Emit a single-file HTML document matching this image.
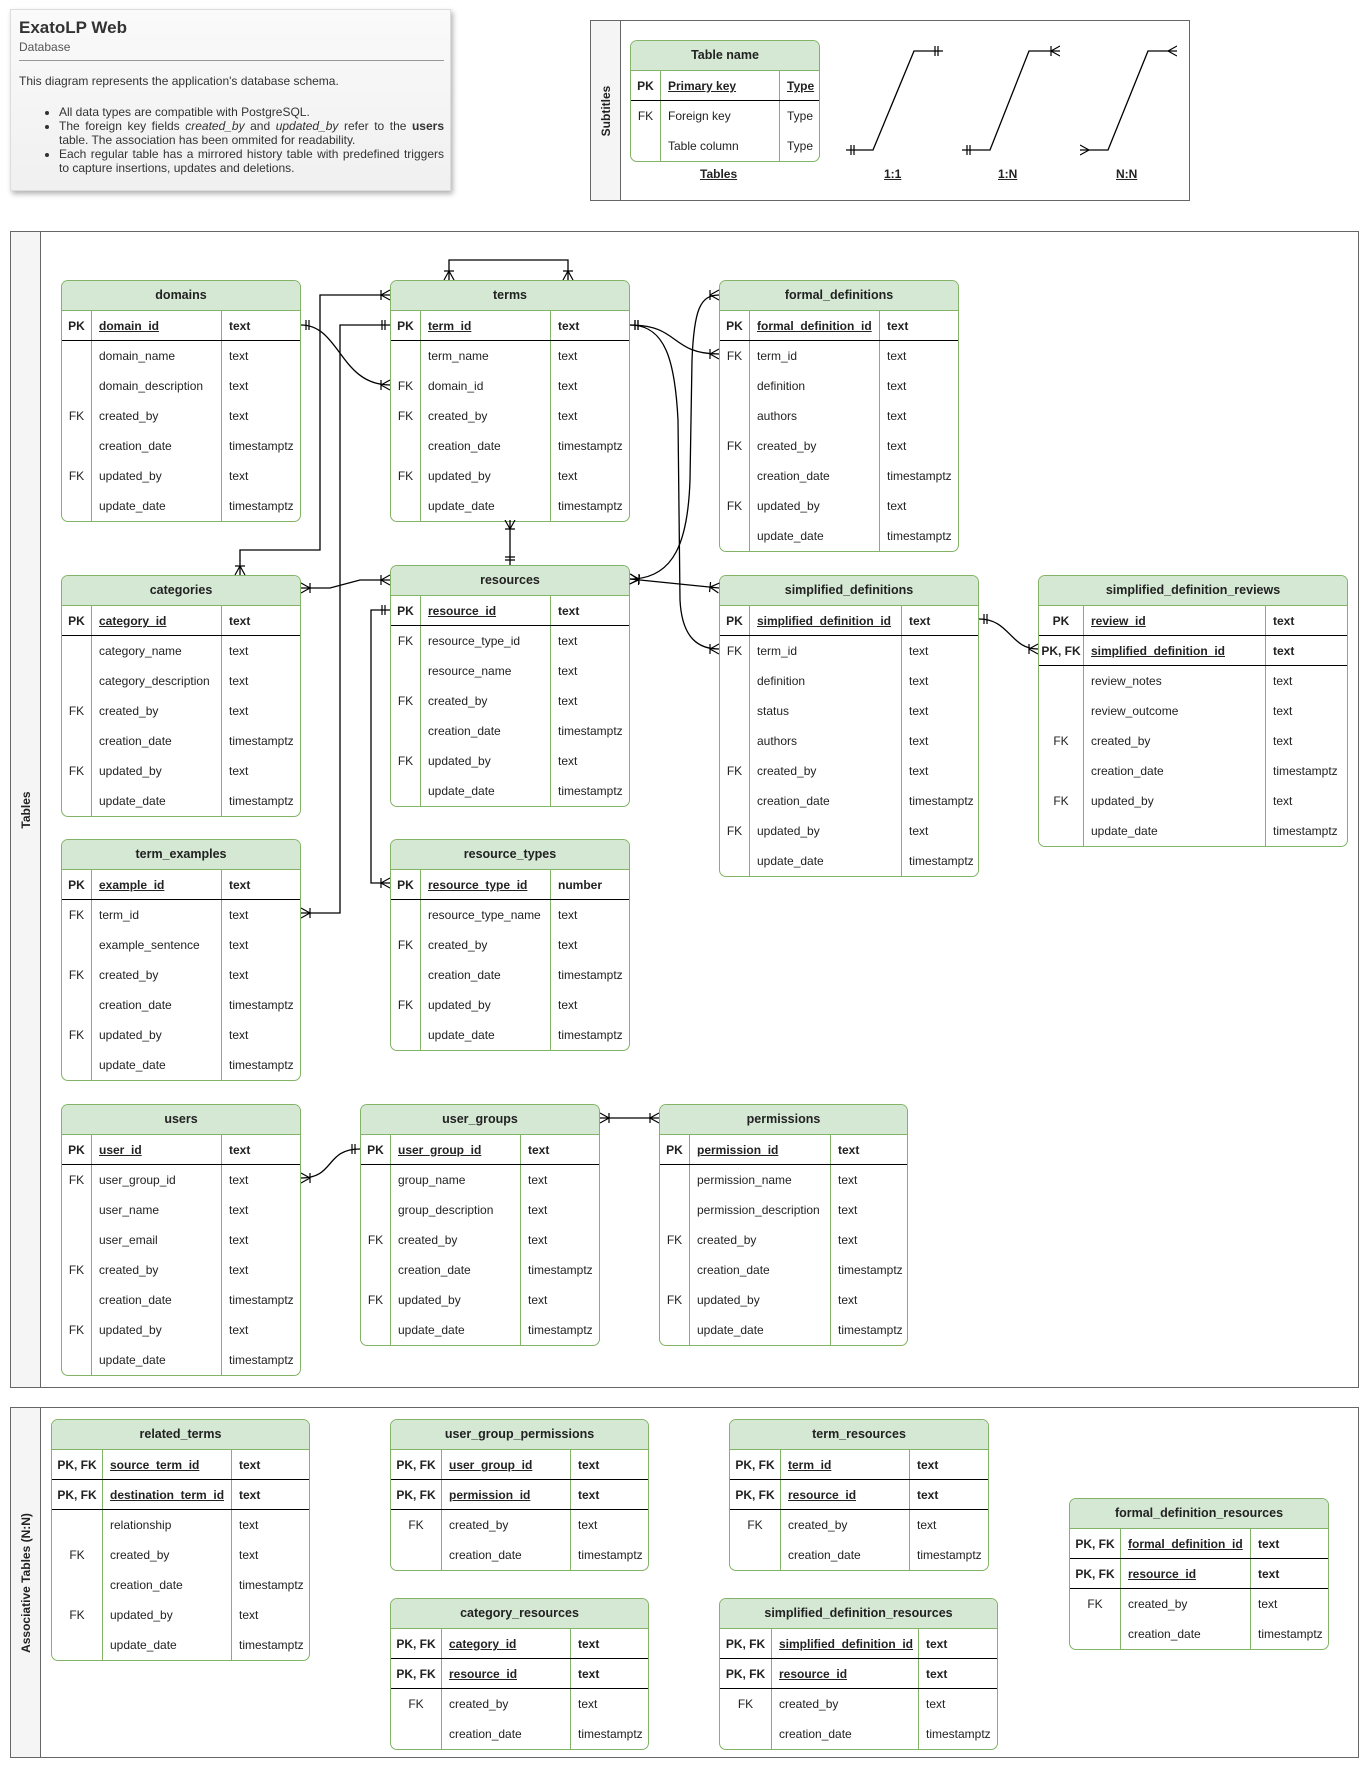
<!DOCTYPE html>
<html><head><meta charset="utf-8">
<style>
*{box-sizing:border-box;margin:0;padding:0}
body{width:1367px;height:1767px;background:#fff;position:relative;font-family:"Liberation Sans",Arial,sans-serif;color:#222;overflow:hidden}
.t{position:absolute;border:1px solid #82b366;border-radius:7px;background:#fff;overflow:hidden;font-size:12px}
.h{height:30px;background:#d5e8d4;border-bottom:1px solid #82b366;text-align:center;line-height:29px;font-weight:bold;font-size:12.5px}
.r{display:flex;height:30px;line-height:30px}
.r div{white-space:nowrap;overflow:hidden}
.k{text-align:center;border-right:1px solid #82b366;flex:none}
.n{padding-left:7px;border-right:1px solid #82b366;flex:none}
.y{padding-left:7px;flex:1}
.pk{font-weight:bold;border-bottom:1.5px solid #000}
.pk .n{text-decoration:underline}
.box{position:absolute;border:1px solid #666;background:#fff}
.strip{position:absolute;left:0;top:0;bottom:0;border-right:1px solid #666;background:#f5f5f5}
.strip span{position:absolute;left:50%;top:50%;transform:translate(-50%,-50%) rotate(-90deg);font-weight:bold;font-size:12px;white-space:nowrap}
svg{position:absolute;left:0;top:0}
</style></head><body>

<div style="position:absolute;left:10px;top:9px;width:441px;height:182px;background:linear-gradient(#fafafa,#f0f0f0);box-shadow:2px 3px 5px rgba(0,0,0,.3);border:1px solid #ddd;font-size:12px;color:#333">
 <div style="position:absolute;left:8px;top:8px;font-size:17px;font-weight:bold">ExatoLP Web</div>
 <div style="position:absolute;left:8px;top:30px;font-size:12px;color:#555">Database</div>
 <div style="position:absolute;left:8px;top:50px;width:425px;border-top:1px solid #999"></div>
 <div style="position:absolute;left:8px;top:64px">This diagram represents the application's database schema.</div>
 <ul style="position:absolute;left:48px;top:95px;width:385px;line-height:14px;text-align:justify">
  <li>All data types are compatible with PostgreSQL.</li>
  <li>The foreign key fields <i>created_by</i> and <i>updated_by</i> refer to the <b>users</b> table. The association has been ommited for readability.</li>
  <li>Each regular table has a mirrored history table with predefined triggers to capture insertions, updates and deletions.</li>
 </ul>
</div>

<div class="box" style="left:590px;top:20px;width:600px;height:181px"><div class="strip" style="width:30px"><span>Subtitles</span></div></div>
<div class="t" style="left:630px;top:40px;width:190px">
 <div class="h">Table name</div>
 <div class="r pk"><div class="k" style="width:30px">PK</div><div class="n" style="width:119px">Primary key</div><div class="y" style="text-decoration:underline">Type</div></div>
 <div class="r"><div class="k" style="width:30px">FK</div><div class="n" style="width:119px">Foreign key</div><div class="y">Type</div></div>
 <div class="r"><div class="k" style="width:30px"></div><div class="n" style="width:119px">Table column</div><div class="y">Type</div></div>
</div>
<div style="position:absolute;top:167px;left:700px;font-size:12px;font-weight:bold;text-decoration:underline">Tables</div>
<div style="position:absolute;top:167px;left:884px;font-size:12px;font-weight:bold;text-decoration:underline">1:1</div>
<div style="position:absolute;top:167px;left:998px;font-size:12px;font-weight:bold;text-decoration:underline">1:N</div>
<div style="position:absolute;top:167px;left:1116px;font-size:12px;font-weight:bold;text-decoration:underline">N:N</div>

<div class="box" style="left:10px;top:231px;width:1349px;height:1157px"><div class="strip" style="width:30px"><span>Tables</span></div></div>
<div class="box" style="left:10px;top:1407px;width:1349px;height:351px"><div class="strip" style="width:30px"><span>Associative Tables (N:N)</span></div></div>

<!-- domains -->
<div class="t" style="left:61px;top:280px;width:240px"><div class="h">domains</div>
<div class="r pk"><div class="k" style="width:30px">PK</div><div class="n" style="width:130px">domain_id</div><div class="y">text</div></div>
<div class="r"><div class="k" style="width:30px"></div><div class="n" style="width:130px">domain_name</div><div class="y">text</div></div>
<div class="r"><div class="k" style="width:30px"></div><div class="n" style="width:130px">domain_description</div><div class="y">text</div></div>
<div class="r"><div class="k" style="width:30px">FK</div><div class="n" style="width:130px">created_by</div><div class="y">text</div></div>
<div class="r"><div class="k" style="width:30px"></div><div class="n" style="width:130px">creation_date</div><div class="y">timestamptz</div></div>
<div class="r"><div class="k" style="width:30px">FK</div><div class="n" style="width:130px">updated_by</div><div class="y">text</div></div>
<div class="r"><div class="k" style="width:30px"></div><div class="n" style="width:130px">update_date</div><div class="y">timestamptz</div></div>
</div>

<!-- terms -->
<div class="t" style="left:390px;top:280px;width:240px"><div class="h">terms</div>
<div class="r pk"><div class="k" style="width:30px">PK</div><div class="n" style="width:130px">term_id</div><div class="y">text</div></div>
<div class="r"><div class="k" style="width:30px"></div><div class="n" style="width:130px">term_name</div><div class="y">text</div></div>
<div class="r"><div class="k" style="width:30px">FK</div><div class="n" style="width:130px">domain_id</div><div class="y">text</div></div>
<div class="r"><div class="k" style="width:30px">FK</div><div class="n" style="width:130px">created_by</div><div class="y">text</div></div>
<div class="r"><div class="k" style="width:30px"></div><div class="n" style="width:130px">creation_date</div><div class="y">timestamptz</div></div>
<div class="r"><div class="k" style="width:30px">FK</div><div class="n" style="width:130px">updated_by</div><div class="y">text</div></div>
<div class="r"><div class="k" style="width:30px"></div><div class="n" style="width:130px">update_date</div><div class="y">timestamptz</div></div>
</div>

<!-- formal_definitions -->
<div class="t" style="left:719px;top:280px;width:240px"><div class="h">formal_definitions</div>
<div class="r pk"><div class="k" style="width:30px">PK</div><div class="n" style="width:130px">formal_definition_id</div><div class="y">text</div></div>
<div class="r"><div class="k" style="width:30px">FK</div><div class="n" style="width:130px">term_id</div><div class="y">text</div></div>
<div class="r"><div class="k" style="width:30px"></div><div class="n" style="width:130px">definition</div><div class="y">text</div></div>
<div class="r"><div class="k" style="width:30px"></div><div class="n" style="width:130px">authors</div><div class="y">text</div></div>
<div class="r"><div class="k" style="width:30px">FK</div><div class="n" style="width:130px">created_by</div><div class="y">text</div></div>
<div class="r"><div class="k" style="width:30px"></div><div class="n" style="width:130px">creation_date</div><div class="y">timestamptz</div></div>
<div class="r"><div class="k" style="width:30px">FK</div><div class="n" style="width:130px">updated_by</div><div class="y">text</div></div>
<div class="r"><div class="k" style="width:30px"></div><div class="n" style="width:130px">update_date</div><div class="y">timestamptz</div></div>
</div>

<!-- categories -->
<div class="t" style="left:61px;top:575px;width:240px"><div class="h">categories</div>
<div class="r pk"><div class="k" style="width:30px">PK</div><div class="n" style="width:130px">category_id</div><div class="y">text</div></div>
<div class="r"><div class="k" style="width:30px"></div><div class="n" style="width:130px">category_name</div><div class="y">text</div></div>
<div class="r"><div class="k" style="width:30px"></div><div class="n" style="width:130px">category_description</div><div class="y">text</div></div>
<div class="r"><div class="k" style="width:30px">FK</div><div class="n" style="width:130px">created_by</div><div class="y">text</div></div>
<div class="r"><div class="k" style="width:30px"></div><div class="n" style="width:130px">creation_date</div><div class="y">timestamptz</div></div>
<div class="r"><div class="k" style="width:30px">FK</div><div class="n" style="width:130px">updated_by</div><div class="y">text</div></div>
<div class="r"><div class="k" style="width:30px"></div><div class="n" style="width:130px">update_date</div><div class="y">timestamptz</div></div>
</div>

<!-- resources -->
<div class="t" style="left:390px;top:565px;width:240px"><div class="h">resources</div>
<div class="r pk"><div class="k" style="width:30px">PK</div><div class="n" style="width:130px">resource_id</div><div class="y">text</div></div>
<div class="r"><div class="k" style="width:30px">FK</div><div class="n" style="width:130px">resource_type_id</div><div class="y">text</div></div>
<div class="r"><div class="k" style="width:30px"></div><div class="n" style="width:130px">resource_name</div><div class="y">text</div></div>
<div class="r"><div class="k" style="width:30px">FK</div><div class="n" style="width:130px">created_by</div><div class="y">text</div></div>
<div class="r"><div class="k" style="width:30px"></div><div class="n" style="width:130px">creation_date</div><div class="y">timestamptz</div></div>
<div class="r"><div class="k" style="width:30px">FK</div><div class="n" style="width:130px">updated_by</div><div class="y">text</div></div>
<div class="r"><div class="k" style="width:30px"></div><div class="n" style="width:130px">update_date</div><div class="y">timestamptz</div></div>
</div>

<!-- simplified_definitions -->
<div class="t" style="left:719px;top:575px;width:260px"><div class="h">simplified_definitions</div>
<div class="r pk"><div class="k" style="width:30px">PK</div><div class="n" style="width:152px">simplified_definition_id</div><div class="y">text</div></div>
<div class="r"><div class="k" style="width:30px">FK</div><div class="n" style="width:152px">term_id</div><div class="y">text</div></div>
<div class="r"><div class="k" style="width:30px"></div><div class="n" style="width:152px">definition</div><div class="y">text</div></div>
<div class="r"><div class="k" style="width:30px"></div><div class="n" style="width:152px">status</div><div class="y">text</div></div>
<div class="r"><div class="k" style="width:30px"></div><div class="n" style="width:152px">authors</div><div class="y">text</div></div>
<div class="r"><div class="k" style="width:30px">FK</div><div class="n" style="width:152px">created_by</div><div class="y">text</div></div>
<div class="r"><div class="k" style="width:30px"></div><div class="n" style="width:152px">creation_date</div><div class="y">timestamptz</div></div>
<div class="r"><div class="k" style="width:30px">FK</div><div class="n" style="width:152px">updated_by</div><div class="y">text</div></div>
<div class="r"><div class="k" style="width:30px"></div><div class="n" style="width:152px">update_date</div><div class="y">timestamptz</div></div>
</div>

<!-- simplified_definition_reviews -->
<div class="t" style="left:1038px;top:575px;width:310px"><div class="h">simplified_definition_reviews</div>
<div class="r pk"><div class="k" style="width:45px">PK</div><div class="n" style="width:182px">review_id</div><div class="y">text</div></div>
<div class="r pk"><div class="k" style="width:45px">PK, FK</div><div class="n" style="width:182px">simplified_definition_id</div><div class="y">text</div></div>
<div class="r"><div class="k" style="width:45px"></div><div class="n" style="width:182px">review_notes</div><div class="y">text</div></div>
<div class="r"><div class="k" style="width:45px"></div><div class="n" style="width:182px">review_outcome</div><div class="y">text</div></div>
<div class="r"><div class="k" style="width:45px">FK</div><div class="n" style="width:182px">created_by</div><div class="y">text</div></div>
<div class="r"><div class="k" style="width:45px"></div><div class="n" style="width:182px">creation_date</div><div class="y">timestamptz</div></div>
<div class="r"><div class="k" style="width:45px">FK</div><div class="n" style="width:182px">updated_by</div><div class="y">text</div></div>
<div class="r"><div class="k" style="width:45px"></div><div class="n" style="width:182px">update_date</div><div class="y">timestamptz</div></div>
</div>

<!-- term_examples -->
<div class="t" style="left:61px;top:839px;width:240px"><div class="h">term_examples</div>
<div class="r pk"><div class="k" style="width:30px">PK</div><div class="n" style="width:130px">example_id</div><div class="y">text</div></div>
<div class="r"><div class="k" style="width:30px">FK</div><div class="n" style="width:130px">term_id</div><div class="y">text</div></div>
<div class="r"><div class="k" style="width:30px"></div><div class="n" style="width:130px">example_sentence</div><div class="y">text</div></div>
<div class="r"><div class="k" style="width:30px">FK</div><div class="n" style="width:130px">created_by</div><div class="y">text</div></div>
<div class="r"><div class="k" style="width:30px"></div><div class="n" style="width:130px">creation_date</div><div class="y">timestamptz</div></div>
<div class="r"><div class="k" style="width:30px">FK</div><div class="n" style="width:130px">updated_by</div><div class="y">text</div></div>
<div class="r"><div class="k" style="width:30px"></div><div class="n" style="width:130px">update_date</div><div class="y">timestamptz</div></div>
</div>

<!-- resource_types -->
<div class="t" style="left:390px;top:839px;width:240px"><div class="h">resource_types</div>
<div class="r pk"><div class="k" style="width:30px">PK</div><div class="n" style="width:130px">resource_type_id</div><div class="y">number</div></div>
<div class="r"><div class="k" style="width:30px"></div><div class="n" style="width:130px">resource_type_name</div><div class="y">text</div></div>
<div class="r"><div class="k" style="width:30px">FK</div><div class="n" style="width:130px">created_by</div><div class="y">text</div></div>
<div class="r"><div class="k" style="width:30px"></div><div class="n" style="width:130px">creation_date</div><div class="y">timestamptz</div></div>
<div class="r"><div class="k" style="width:30px">FK</div><div class="n" style="width:130px">updated_by</div><div class="y">text</div></div>
<div class="r"><div class="k" style="width:30px"></div><div class="n" style="width:130px">update_date</div><div class="y">timestamptz</div></div>
</div>

<!-- users -->
<div class="t" style="left:61px;top:1104px;width:240px"><div class="h">users</div>
<div class="r pk"><div class="k" style="width:30px">PK</div><div class="n" style="width:130px">user_id</div><div class="y">text</div></div>
<div class="r"><div class="k" style="width:30px">FK</div><div class="n" style="width:130px">user_group_id</div><div class="y">text</div></div>
<div class="r"><div class="k" style="width:30px"></div><div class="n" style="width:130px">user_name</div><div class="y">text</div></div>
<div class="r"><div class="k" style="width:30px"></div><div class="n" style="width:130px">user_email</div><div class="y">text</div></div>
<div class="r"><div class="k" style="width:30px">FK</div><div class="n" style="width:130px">created_by</div><div class="y">text</div></div>
<div class="r"><div class="k" style="width:30px"></div><div class="n" style="width:130px">creation_date</div><div class="y">timestamptz</div></div>
<div class="r"><div class="k" style="width:30px">FK</div><div class="n" style="width:130px">updated_by</div><div class="y">text</div></div>
<div class="r"><div class="k" style="width:30px"></div><div class="n" style="width:130px">update_date</div><div class="y">timestamptz</div></div>
</div>

<!-- user_groups -->
<div class="t" style="left:360px;top:1104px;width:240px"><div class="h">user_groups</div>
<div class="r pk"><div class="k" style="width:30px">PK</div><div class="n" style="width:130px">user_group_id</div><div class="y">text</div></div>
<div class="r"><div class="k" style="width:30px"></div><div class="n" style="width:130px">group_name</div><div class="y">text</div></div>
<div class="r"><div class="k" style="width:30px"></div><div class="n" style="width:130px">group_description</div><div class="y">text</div></div>
<div class="r"><div class="k" style="width:30px">FK</div><div class="n" style="width:130px">created_by</div><div class="y">text</div></div>
<div class="r"><div class="k" style="width:30px"></div><div class="n" style="width:130px">creation_date</div><div class="y">timestamptz</div></div>
<div class="r"><div class="k" style="width:30px">FK</div><div class="n" style="width:130px">updated_by</div><div class="y">text</div></div>
<div class="r"><div class="k" style="width:30px"></div><div class="n" style="width:130px">update_date</div><div class="y">timestamptz</div></div>
</div>

<!-- permissions -->
<div class="t" style="left:659px;top:1104px;width:249px"><div class="h">permissions</div>
<div class="r pk"><div class="k" style="width:30px">PK</div><div class="n" style="width:141px">permission_id</div><div class="y">text</div></div>
<div class="r"><div class="k" style="width:30px"></div><div class="n" style="width:141px">permission_name</div><div class="y">text</div></div>
<div class="r"><div class="k" style="width:30px"></div><div class="n" style="width:141px">permission_description</div><div class="y">text</div></div>
<div class="r"><div class="k" style="width:30px">FK</div><div class="n" style="width:141px">created_by</div><div class="y">text</div></div>
<div class="r"><div class="k" style="width:30px"></div><div class="n" style="width:141px">creation_date</div><div class="y">timestamptz</div></div>
<div class="r"><div class="k" style="width:30px">FK</div><div class="n" style="width:141px">updated_by</div><div class="y">text</div></div>
<div class="r"><div class="k" style="width:30px"></div><div class="n" style="width:141px">update_date</div><div class="y">timestamptz</div></div>
</div>

<!-- related_terms -->
<div class="t" style="left:51px;top:1419px;width:259px"><div class="h">related_terms</div>
<div class="r pk"><div class="k" style="width:51px">PK, FK</div><div class="n" style="width:129px">source_term_id</div><div class="y">text</div></div>
<div class="r pk"><div class="k" style="width:51px">PK, FK</div><div class="n" style="width:129px">destination_term_id</div><div class="y">text</div></div>
<div class="r"><div class="k" style="width:51px"></div><div class="n" style="width:129px">relationship</div><div class="y">text</div></div>
<div class="r"><div class="k" style="width:51px">FK</div><div class="n" style="width:129px">created_by</div><div class="y">text</div></div>
<div class="r"><div class="k" style="width:51px"></div><div class="n" style="width:129px">creation_date</div><div class="y">timestamptz</div></div>
<div class="r"><div class="k" style="width:51px">FK</div><div class="n" style="width:129px">updated_by</div><div class="y">text</div></div>
<div class="r"><div class="k" style="width:51px"></div><div class="n" style="width:129px">update_date</div><div class="y">timestamptz</div></div>
</div>

<!-- user_group_permissions -->
<div class="t" style="left:390px;top:1419px;width:259px"><div class="h">user_group_permissions</div>
<div class="r pk"><div class="k" style="width:51px">PK, FK</div><div class="n" style="width:129px">user_group_id</div><div class="y">text</div></div>
<div class="r pk"><div class="k" style="width:51px">PK, FK</div><div class="n" style="width:129px">permission_id</div><div class="y">text</div></div>
<div class="r"><div class="k" style="width:51px">FK</div><div class="n" style="width:129px">created_by</div><div class="y">text</div></div>
<div class="r"><div class="k" style="width:51px"></div><div class="n" style="width:129px">creation_date</div><div class="y">timestamptz</div></div>
</div>

<!-- term_resources -->
<div class="t" style="left:729px;top:1419px;width:260px"><div class="h">term_resources</div>
<div class="r pk"><div class="k" style="width:51px">PK, FK</div><div class="n" style="width:129px">term_id</div><div class="y">text</div></div>
<div class="r pk"><div class="k" style="width:51px">PK, FK</div><div class="n" style="width:129px">resource_id</div><div class="y">text</div></div>
<div class="r"><div class="k" style="width:51px">FK</div><div class="n" style="width:129px">created_by</div><div class="y">text</div></div>
<div class="r"><div class="k" style="width:51px"></div><div class="n" style="width:129px">creation_date</div><div class="y">timestamptz</div></div>
</div>

<!-- category_resources -->
<div class="t" style="left:390px;top:1598px;width:259px"><div class="h">category_resources</div>
<div class="r pk"><div class="k" style="width:51px">PK, FK</div><div class="n" style="width:129px">category_id</div><div class="y">text</div></div>
<div class="r pk"><div class="k" style="width:51px">PK, FK</div><div class="n" style="width:129px">resource_id</div><div class="y">text</div></div>
<div class="r"><div class="k" style="width:51px">FK</div><div class="n" style="width:129px">created_by</div><div class="y">text</div></div>
<div class="r"><div class="k" style="width:51px"></div><div class="n" style="width:129px">creation_date</div><div class="y">timestamptz</div></div>
</div>

<!-- simplified_definition_resources -->
<div class="t" style="left:719px;top:1598px;width:279px"><div class="h">simplified_definition_resources</div>
<div class="r pk"><div class="k" style="width:52px">PK, FK</div><div class="n" style="width:147px">simplified_definition_id</div><div class="y">text</div></div>
<div class="r pk"><div class="k" style="width:52px">PK, FK</div><div class="n" style="width:147px">resource_id</div><div class="y">text</div></div>
<div class="r"><div class="k" style="width:52px">FK</div><div class="n" style="width:147px">created_by</div><div class="y">text</div></div>
<div class="r"><div class="k" style="width:52px"></div><div class="n" style="width:147px">creation_date</div><div class="y">timestamptz</div></div>
</div>

<!-- formal_definition_resources -->
<div class="t" style="left:1069px;top:1498px;width:260px"><div class="h">formal_definition_resources</div>
<div class="r pk"><div class="k" style="width:51px">PK, FK</div><div class="n" style="width:130px">formal_definition_id</div><div class="y">text</div></div>
<div class="r pk"><div class="k" style="width:51px">PK, FK</div><div class="n" style="width:130px">resource_id</div><div class="y">text</div></div>
<div class="r"><div class="k" style="width:51px">FK</div><div class="n" style="width:130px">created_by</div><div class="y">text</div></div>
<div class="r"><div class="k" style="width:51px"></div><div class="n" style="width:130px">creation_date</div><div class="y">timestamptz</div></div>
</div>

<svg width="1367" height="1767" viewBox="0 0 1367 1767">
<defs>
<marker id="one" markerUnits="userSpaceOnUse" viewBox="0 0 12 12" refX="12" refY="6" markerWidth="12" markerHeight="12" orient="auto-start-reverse">
<path d="M4,1V11M7,1V11" stroke="#000" stroke-width="1.2" fill="none"/></marker>
<marker id="many" markerUnits="userSpaceOnUse" viewBox="0 0 12 12" refX="12" refY="6" markerWidth="12" markerHeight="12" orient="auto-start-reverse">
<path d="M3,6L12,1M3,6L12,11M3,1V11" stroke="#000" stroke-width="1.2" fill="none"/></marker>
<marker id="crow" markerUnits="userSpaceOnUse" viewBox="0 0 12 12" refX="12" refY="6" markerWidth="12" markerHeight="12" orient="auto-start-reverse">
<path d="M3,6L12,1M3,6L12,11" stroke="#000" stroke-width="1.2" fill="none"/></marker>
</defs>
<g fill="none" stroke="#000" stroke-width="1.3">
<path d="M846,150H873L914,51H943" marker-start="url(#one)" marker-end="url(#one)"/>
<path d="M962,150H990L1029,51H1060" marker-start="url(#one)" marker-end="url(#many)"/>
<path d="M1080,150H1108L1148,51H1177" marker-start="url(#crow)" marker-end="url(#crow)"/>

<path d="M449,280V260H568V280" marker-start="url(#many)" marker-end="url(#many)"/>
<path d="M301,325C340,325 340,385 390,385" marker-start="url(#one)" marker-end="url(#many)"/>
<path d="M240,575V550H320V295H390" marker-start="url(#many)" marker-end="url(#many)"/>
<path d="M390,325H340V913H301" marker-start="url(#one)" marker-end="url(#many)"/>
<path d="M301,588H330L360,580H390" marker-start="url(#many)" marker-end="url(#many)"/>
<path d="M510,520V565" marker-start="url(#many)" marker-end="url(#one)"/>
<path d="M390,610H371V883H390" marker-start="url(#one)" marker-end="url(#many)"/>
<path d="M630,325C680,325 670,354 719,354" marker-start="url(#one)" marker-end="url(#many)"/>
<path d="M630,325C665,325 675,360 678,420L680,600C682,640 700,649 719,649" marker-start="url(#one)" marker-end="url(#many)"/>
<path d="M630,579C675,579 688,540 690,480L692,360C694,310 700,295 719,295" marker-start="url(#many)" marker-end="url(#many)"/>
<path d="M630,579L719,588" marker-start="url(#many)" marker-end="url(#many)"/>
<path d="M979,619C1010,619 1010,649 1038,649" marker-start="url(#one)" marker-end="url(#many)"/>
<path d="M301,1178C335,1178 325,1149 360,1149" marker-start="url(#many)" marker-end="url(#one)"/>
<path d="M600,1118H659" marker-start="url(#many)" marker-end="url(#many)"/>
</g>
</svg>
</body></html>
